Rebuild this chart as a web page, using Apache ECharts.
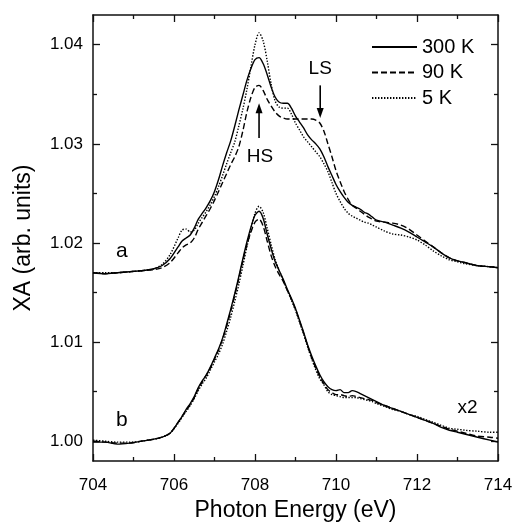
<!DOCTYPE html>
<html>
<head>
<meta charset="utf-8">
<script src="https://cdn.jsdelivr.net/npm/echarts@6/dist/echarts.min.js"></script>
<style>html,body{margin:0;padding:0;background:#fff;}#c{width:513px;height:522px;}</style>
</head>
<body>
<div id="c"></div>
<script>
// Photon energy grid (eV)
const energy = [704.0,704.3,704.6,704.9,705.2,705.5,705.7,705.9,
  706.1,706.2,706.3,706.4,706.5,706.6,706.7,706.8,706.9,707.0,
  707.1,707.2,707.3,707.4,707.5,707.6,707.7,707.8,707.9,708.0,
  708.1,708.2,708.3,708.4,708.5,708.6,708.7,708.8,708.9,709.0,
  709.1,709.2,709.3,709.4,709.5,709.6,709.7,709.8,709.9,710.0,
  710.1,710.2,710.3,710.4,710.5,710.6,710.7,710.8,710.9,711.0,
  711.2,711.4,711.6,711.8,712.0,712.2,712.4,712.6,712.8,713.0,
  713.2,713.5,713.8,714.0];

// Curve set a
const a300K = [1.0170,1.0169,1.0170,1.0171,1.0172,1.0174,1.0177,1.0184,
  1.0196,1.0202,1.0205,1.0208,1.0215,1.0224,1.0230,1.0236,1.0243,1.0252,
  1.0264,1.0278,1.0291,1.0303,1.0318,1.0334,1.0349,1.0364,1.0376,1.0385,
  1.0387,1.0381,1.0370,1.0357,1.0347,1.0342,1.0341,1.0341,1.0336,1.0328,
  1.0322,1.0316,1.0309,1.0304,1.0300,1.0295,1.0287,1.0277,1.0268,1.0259,
  1.0252,1.0246,1.0241,1.0238,1.0236,1.0234,1.0231,1.0229,1.0226,1.0223,
  1.0221,1.0218,1.0215,1.0211,1.0206,1.0201,1.0196,1.0190,1.0185,1.0182,
  1.0180,1.0177,1.0176,1.0175];
const a90K = [1.0170,1.0169,1.0170,1.0171,1.0172,1.0173,1.0175,1.0180,
  1.0190,1.0195,1.0198,1.0200,1.0205,1.0214,1.0221,1.0228,1.0235,1.0243,
  1.0252,1.0261,1.0270,1.0279,1.0287,1.0297,1.0313,1.0332,1.0347,1.0357,
  1.0359,1.0354,1.0345,1.0338,1.0332,1.0328,1.0326,1.0325,1.0325,1.0325,
  1.0325,1.0325,1.0325,1.0325,1.0324,1.0321,1.0313,1.0300,1.0287,1.0273,
  1.0262,1.0252,1.0244,1.0238,1.0235,1.0232,1.0229,1.0226,1.0224,1.0222,
  1.0221,1.0220,1.0218,1.0214,1.0208,1.0202,1.0196,1.0190,1.0185,1.0182,
  1.0180,1.0177,1.0176,1.0175];
const a5K = [1.0170,1.0170,1.0170,1.0171,1.0172,1.0174,1.0178,1.0188,
  1.0205,1.0213,1.0214,1.0211,1.0213,1.0220,1.0226,1.0232,1.0239,1.0247,
  1.0257,1.0268,1.0280,1.0291,1.0302,1.0318,1.0335,1.0355,1.0378,1.0400,
  1.0412,1.0404,1.0384,1.0360,1.0343,1.0337,1.0336,1.0336,1.0330,1.0321,
  1.0314,1.0307,1.0302,1.0297,1.0292,1.0287,1.0280,1.0272,1.0261,1.0250,
  1.0242,1.0235,1.0230,1.0227,1.0225,1.0223,1.0221,1.0220,1.0218,1.0216,
  1.0212,1.0209,1.0208,1.0206,1.0203,1.0198,1.0192,1.0187,1.0183,1.0181,
  1.0179,1.0177,1.0176,1.0175];

// Curve set b (x2)
const b300K = [0.9999,0.9999,0.9997,0.9998,1.0000,1.0002,1.0004,1.0008,
  1.0019,1.0025,1.0032,1.0038,1.0045,1.0054,1.0061,1.0067,1.0075,1.0084,
  1.0093,1.0104,1.0118,1.0133,1.0149,1.0166,1.0184,1.0201,1.0216,1.0228,
  1.0232,1.0225,1.0209,1.0194,1.0181,1.0172,1.0163,1.0153,1.0144,1.0134,
  1.0122,1.0110,1.0097,1.0086,1.0076,1.0067,1.0060,1.0055,1.0052,1.0051,
  1.0052,1.0049,1.0049,1.0051,1.0050,1.0048,1.0046,1.0044,1.0042,1.0040,
  1.0036,1.0033,1.0030,1.0027,1.0024,1.0021,1.0018,1.0014,1.0011,1.0009,
  1.0007,1.0004,1.0001,0.9999];
const b90K = [1.0000,0.9999,0.9998,0.9998,1.0000,1.0002,1.0004,1.0008,
  1.0019,1.0025,1.0031,1.0037,1.0044,1.0053,1.0060,1.0067,1.0074,1.0083,
  1.0092,1.0103,1.0116,1.0131,1.0147,1.0164,1.0182,1.0198,1.0211,1.0221,
  1.0224,1.0217,1.0202,1.0187,1.0176,1.0168,1.0161,1.0152,1.0143,1.0133,
  1.0121,1.0109,1.0096,1.0084,1.0074,1.0065,1.0058,1.0052,1.0049,1.0047,
  1.0047,1.0046,1.0045,1.0046,1.0045,1.0044,1.0043,1.0042,1.0041,1.0039,
  1.0036,1.0033,1.0030,1.0027,1.0024,1.0021,1.0018,1.0015,1.0012,1.0010,
  1.0008,1.0005,1.0004,1.0003];
const b5K = [1.0001,1.0000,0.9999,0.9999,1.0000,1.0002,1.0004,1.0008,
  1.0018,1.0024,1.0030,1.0036,1.0043,1.0051,1.0058,1.0064,1.0072,1.0080,
  1.0088,1.0098,1.0111,1.0125,1.0141,1.0158,1.0177,1.0196,1.0214,1.0230,
  1.0237,1.0231,1.0215,1.0198,1.0183,1.0172,1.0162,1.0152,1.0142,1.0132,
  1.0120,1.0108,1.0095,1.0083,1.0072,1.0063,1.0057,1.0050,1.0047,1.0046,
  1.0045,1.0044,1.0044,1.0044,1.0044,1.0043,1.0042,1.0041,1.0040,1.0038,
  1.0035,1.0032,1.0030,1.0027,1.0025,1.0022,1.0019,1.0016,1.0013,1.0012,
  1.0011,1.0010,1.0009,1.0009];

const legendNames = ['300 K','90 K','5 K'];
const xTicks = [704,706,708,710,712,714];
const yMajor = [1.00,1.01,1.02,1.03,1.04];
const yMinor = [1.005,1.015,1.025,1.035];

// annotations: [text, x, y]
const textNotes = [['LS',709.61,1.0376],['HS',708.12,1.0287],['a',704.71,1.0192],['b',704.71,1.0021],['x2',713.25,1.0034]];
// arrows: [x, yTail, yTip]
const arrows = [[709.61,1.0359,1.0326],[708.10,1.0306,1.0341]];

const pairs = (ys) => energy.map((e,i)=>[e, ys[i]]);
const styles = [
  {type:'solid', width:1.4},
  {type:[6,3], width:1.4},
  {type:[1.4,1.6], width:1.4}
];
function mkSeries(name, ys, st) {
  return {
    type:'line', name: name, data: pairs(ys), showSymbol:false, symbol:'none',
    smooth:0.3, xAxisIndex:0, yAxisIndex:0,
    lineStyle:{color:'#000', width:st.width, type:st.type},
    itemStyle:{color:'#000'}, animation:false, z:3
  };
}
const font = 'Liberation Sans, Arial, sans-serif';
const axisCol = '#111';

const chart = echarts.init(document.getElementById('c'), null, {renderer:'canvas'});
const yRange = {min:0.998, max:1.043};
chart.setOption({
  animation:false,
  backgroundColor:'#fff',
  grid:{left:93, right:15, top:15, bottom:61, containLabel:false, outerBoundsMode:'none'},
  legend:{
    orient:'vertical', left:366, top:32, itemWidth:45, itemHeight:14, itemGap:5.5,
    data:legendNames, selectedMode:false,
    itemStyle:{color:'rgba(0,0,0,0)', borderWidth:0, opacity:0},
    textStyle:{fontFamily:font, fontSize:20, color:'#000'}
  },
  xAxis:[
    {type:'value', position:'bottom', min:704, max:714, interval:2,
     name:'Photon Energy (eV)', nameLocation:'middle', nameGap:37,
     nameTextStyle:{fontFamily:font, fontSize:23, color:'#000'},
     axisLine:{show:true, onZero:false, lineStyle:{color:axisCol, width:1.5}},
     axisTick:{show:true, inside:true, length:7, lineStyle:{color:axisCol, width:1.3}},
     minorTick:{show:true, splitNumber:2, length:4, lineStyle:{color:axisCol, width:1.3}},
     axisLabel:{show:true, margin:16, fontFamily:font, fontSize:17, color:'#000',
       customValues:xTicks, formatter:(v)=>String(Math.round(v))},
     splitLine:{show:false}},
    {type:'value', position:'top', min:704, max:714, interval:2,
     axisLine:{show:true, onZero:false, lineStyle:{color:axisCol, width:1.5}},
     axisTick:{show:true, inside:true, length:7, lineStyle:{color:axisCol, width:1.3}},
     minorTick:{show:true, splitNumber:2, length:4, lineStyle:{color:axisCol, width:1.3}},
     axisLabel:{show:false}, splitLine:{show:false}}
  ],
  yAxis:[
    {type:'value', position:'left', min:yRange.min, max:yRange.max,
     name:'XA (arb. units)', nameLocation:'middle', nameGap:58,
     nameTextStyle:{fontFamily:font, fontSize:23, color:'#000'},
     axisLine:{show:true, onZero:false, lineStyle:{color:axisCol, width:1.5}},
     axisTick:{show:true, inside:true, length:7, customValues:yMajor, lineStyle:{color:axisCol, width:1.3}},
     axisLabel:{show:true, margin:10, fontFamily:font, fontSize:17, color:'#000',
       customValues:yMajor, formatter:(v)=>v.toFixed(2)},
     splitLine:{show:false}},
    {type:'value', position:'left', min:yRange.min, max:yRange.max,
     axisLine:{show:false},
     axisTick:{show:true, inside:true, length:4, customValues:yMinor, lineStyle:{color:axisCol, width:1.3}},
     axisLabel:{show:false}, splitLine:{show:false}},
    {type:'value', position:'right', min:yRange.min, max:yRange.max,
     axisLine:{show:true, onZero:false, lineStyle:{color:axisCol, width:1.5}},
     axisTick:{show:true, inside:true, length:7, customValues:yMajor, lineStyle:{color:axisCol, width:1.3}},
     axisLabel:{show:false}, splitLine:{show:false}},
    {type:'value', position:'right', min:yRange.min, max:yRange.max,
     axisLine:{show:false},
     axisTick:{show:true, inside:true, length:4, customValues:yMinor, lineStyle:{color:axisCol, width:1.3}},
     axisLabel:{show:false}, splitLine:{show:false}}
  ],
  series:[
    mkSeries(legendNames[0], a300K, styles[0]),
    mkSeries(legendNames[1], a90K, styles[1]),
    mkSeries(legendNames[2], a5K, styles[2]),
    mkSeries(legendNames[0], b300K, styles[0]),
    mkSeries(legendNames[1], b90K, styles[1]),
    mkSeries(legendNames[2], b5K, styles[2])
  ]
});

const toPx = (x,y) => chart.convertToPixel({xAxisIndex:0, yAxisIndex:0}, [x, y]);
const g = textNotes.map(n=>{
  const p = toPx(n[1], n[2]);
  return {type:'text', x:p[0], y:p[1], z:10,
    style:{text:n[0], fontFamily:font, fontSize:n[0]==='a'||n[0]==='b'?21:19, fill:'#000', align:'center', verticalAlign:'middle'}};
});
arrows.forEach(a=>{
  const t = toPx(a[0], a[1]);
  const h = toPx(a[0], a[2]);
  const dir = h[1] > t[1] ? 1 : -1;
  const headLen = 10, halfW = 3.5;
  g.push({type:'line', z:10, shape:{x1:t[0], y1:t[1], x2:h[0], y2:h[1] - dir*headLen*0.8},
    style:{stroke:'#000', lineWidth:1.6}});
  g.push({type:'polygon', z:10, shape:{points:[[h[0], h[1]], [h[0]-halfW, h[1]-dir*headLen], [h[0]+halfW, h[1]-dir*headLen]]},
    style:{fill:'#000'}});
});
chart.setOption({graphic:g});
</script>
</body>
</html>
